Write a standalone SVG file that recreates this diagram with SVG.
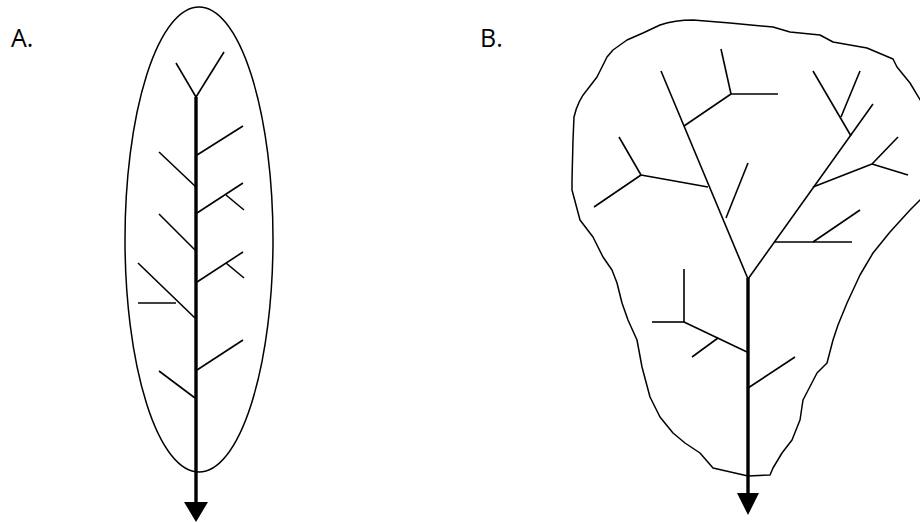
<svg xmlns="http://www.w3.org/2000/svg" width="920" height="523" viewBox="0 0 920 523">
<style>
.thin{fill:none;stroke:#000;stroke-width:1.6;stroke-linecap:butt}
.stem{fill:none;stroke:#000;stroke-width:3.4}
.outline{fill:none;stroke:#000;stroke-width:1.5;stroke-linejoin:round}
.lbl{font-family:"Open Sans","Liberation Sans",Arial,sans-serif;font-size:25px;fill:#000}
.head{fill:#000}
</style>
<g id="labels">
<text class="lbl" x="11" y="47">A.</text>
<text class="lbl" x="480" y="47">B.</text>
</g>
<g id="basinA">
<ellipse class="outline" cx="199" cy="239.5" rx="74" ry="232.5"/>
</g>
<g id="basinB">
<path class="outline" d="M922,198 L910,210 L890,232 L873,253 L860,275 L847,303 L838,325 L833,340 L827,363 L817,373 L803,400 L800,420 L792,440 L782,453 L773,468 L770,475 L748,476 L713,468 L700,453 L685,443 L673,433 L660,417 L650,397 L642,367 L637,340 L628,320 L622,303 L617,283 L612,270 L603,257 L593,237 L580,220 L572,190 L572,180 L573,140 L574,117 Q578,100 587,90 L597,77 L603,65 L607,57 L613,50 L620,45 L627,40 L643,33 L660,25 Q675,20 693,20 L730,23 L773,27 L790,32 L820,35 L833,42 L867,48 L893,59 L897,67 L910,83 L922,103"/>
</g>
<g id="networkA">
<line class="stem" x1="196" y1="97" x2="196" y2="503"/>
<polygon class="head" points="184,502 208,502 196,522"/>
<line class="thin" x1="196" y1="97" x2="176" y2="63"/>
<line class="thin" x1="196" y1="97" x2="224" y2="52"/>
<line class="thin" x1="197" y1="155" x2="243" y2="126"/>
<line class="thin" x1="159" y1="152" x2="196" y2="187"/>
<line class="thin" x1="197" y1="213" x2="243" y2="183"/>
<line class="thin" x1="226" y1="195" x2="244" y2="210"/>
<line class="thin" x1="159" y1="214" x2="195" y2="250"/>
<line class="thin" x1="197" y1="282" x2="243" y2="252"/>
<line class="thin" x1="226" y1="263" x2="244" y2="278"/>
<line class="thin" x1="138" y1="263" x2="195" y2="318"/>
<line class="thin" x1="138" y1="303" x2="176" y2="303"/>
<line class="thin" x1="197" y1="370" x2="243" y2="340"/>
<line class="thin" x1="159" y1="371" x2="195" y2="398"/>
</g>
<g id="networkB">
<line class="stem" x1="748" y1="278" x2="748" y2="494"/>
<polygon class="head" points="737,493 759,493 748,515"/>
<line class="thin" x1="748" y1="279" x2="661" y2="71"/>
<line class="thin" x1="748" y1="279" x2="873" y2="104"/>
<line class="thin" x1="684" y1="126" x2="731" y2="94"/>
<line class="thin" x1="731" y1="94" x2="721" y2="49"/>
<line class="thin" x1="731" y1="94" x2="778" y2="94"/>
<line class="thin" x1="708" y1="187" x2="641" y2="175"/>
<line class="thin" x1="641" y1="175" x2="594" y2="207"/>
<line class="thin" x1="641" y1="175" x2="619" y2="137"/>
<line class="thin" x1="726" y1="218" x2="748" y2="163"/>
<line class="thin" x1="851" y1="136" x2="813" y2="71"/>
<line class="thin" x1="841" y1="117" x2="860" y2="71"/>
<line class="thin" x1="813" y1="187" x2="872" y2="164"/>
<line class="thin" x1="872" y1="164" x2="898" y2="137"/>
<line class="thin" x1="872" y1="164" x2="908" y2="175"/>
<line class="thin" x1="774" y1="242" x2="852" y2="242"/>
<line class="thin" x1="813" y1="242" x2="860" y2="210"/>
<line class="thin" x1="747" y1="352" x2="684" y2="322"/>
<line class="thin" x1="684" y1="322" x2="684" y2="269"/>
<line class="thin" x1="684" y1="322" x2="652" y2="322"/>
<line class="thin" x1="718" y1="338" x2="692" y2="357"/>
<line class="thin" x1="748" y1="388" x2="795" y2="357"/>
</g>
</svg>
